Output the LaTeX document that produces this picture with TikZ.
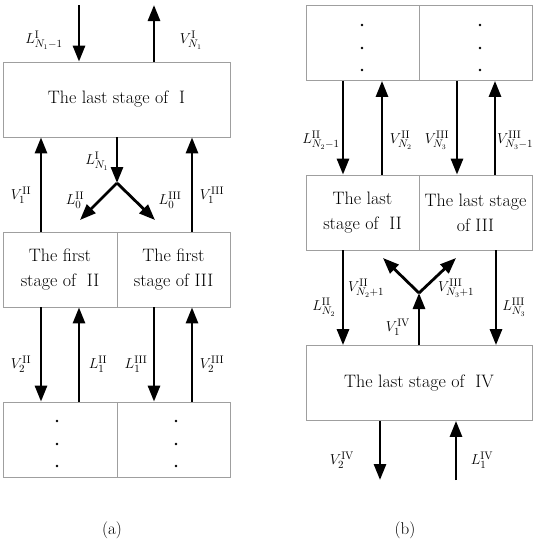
\documentclass[tikz,border=0pt]{standalone}
\usepackage{amsmath}
\usetikzlibrary{arrows.meta,positioning}
\newcommand\boxfont{\fontsize{18}{25}\selectfont}
\newcommand\labfont{\fontsize{15}{18}\selectfont}
\begin{document}
\begin{tikzpicture}[x=1pt, y=-1pt,
  stage/.style={draw=gray!75, line width=0.8pt, inner sep=0pt,
                minimum height=75pt, align=center, font=\boxfont},
  flow/.style={line width=2.8pt, -{Triangle[length=16pt,width=12pt]}},
  lab/.style={font=\labfont, inner sep=0pt}
]
\useasboundingbox (0,0) rectangle (540,550);

% (a) stages
\node[stage, minimum width=227pt] (lastI) at (116.5,99.5) {The last stage of~~I};
\node[stage, minimum width=114pt] (firstII) at (60,269.5) {The first\\stage of~~II};
\node[stage, minimum width=113pt] (firstIII) at (173.5,269.5) {The first\\stage of III};
\node[stage, minimum width=114pt] (dotsII) at (60,439.5) {};
\node[stage, minimum width=113pt] (dotsIII) at (173.5,439.5) {};
\foreach \y in {421,444,466} {
  \fill (57,\y) circle (1.3pt);
  \fill (176,\y) circle (1.3pt);
}

\coordinate (feedI) at (79,5);
\coordinate (vapI) at (154,5);
\coordinate (splitI) at (117,183);
\coordinate (toII) at (80,220);
\coordinate (toIII) at (155,220);

\draw[flow] (feedI) -- (feedI |- lastI.north);
\draw[flow] (vapI |- lastI.north) -- (vapI);
\draw[flow] (splitI |- lastI.south) -- (splitI);
\draw[flow] (splitI) -- (toII);
\draw[flow] (splitI) -- (toIII);
\draw[flow] (41,0 |- firstII.north) -- (41,0 |- lastI.south);
\draw[flow] (192,0 |- firstIII.north) -- (192,0 |- lastI.south);
\draw[flow] (41,0 |- firstII.south) -- (41,0 |- dotsII.north);
\draw[flow] (79,0 |- dotsII.north) -- (79,0 |- firstII.south);
\draw[flow] (154,0 |- firstIII.south) -- (154,0 |- dotsIII.north);
\draw[flow] (192,0 |- dotsIII.north) -- (192,0 |- firstIII.south);

\node[lab] (LfeedI) at (44,40) {$L^{\mathrm{I}}_{N_1-1}$};
\node[lab] (VvapI) at (191,40) {$V^{\mathrm{I}}_{N_1}$};
\node[lab] (LsplitI) at (97,161) {$L^{\mathrm{I}}_{N_1}$};
\node[lab] (VoneII) at (21,195) {$V^{\mathrm{II}}_1$};
\node[lab] (LzeroII) at (75,200) {$L^{\mathrm{II}}_0$};
\node[lab] (LzeroIII) at (170,200) {$L^{\mathrm{III}}_0$};
\node[lab] (VoneIII) at (212,195) {$V^{\mathrm{III}}_1$};
\node[lab] (VtwoII) at (21,364) {$V^{\mathrm{II}}_2$};
\node[lab] (LoneII) at (98,364) {$L^{\mathrm{II}}_1$};
\node[lab] (LoneIII) at (136,364) {$L^{\mathrm{III}}_1$};
\node[lab] (VtwoIII) at (212,364) {$V^{\mathrm{III}}_2$};

% (b) stages
\node[stage, minimum width=113pt] (dotsIIb) at (362.5,43) {};
\node[stage, minimum width=113pt] (dotsIIIb) at (475.5,43) {};
\node[stage, minimum width=113pt] (lastII) at (362.5,212.5) {The last\\stage of~~II};
\node[stage, minimum width=113pt] (lastIII) at (475.5,212.5) {The last stage\\of III};
\node[stage, minimum width=226pt] (lastIV) at (419,383) {The last stage of~~IV};
\foreach \y in {25,48,70} {
  \fill (362,\y) circle (1.3pt);
  \fill (480,\y) circle (1.3pt);
}

\coordinate (splitIV) at (419,293);
\coordinate (upII) at (383,258);
\coordinate (upIII) at (456,258);
\coordinate (vapIV) at (380,480);
\coordinate (feedIV) at (456,480);

\draw[flow] (343,0 |- dotsIIb.south) -- (343,0 |- lastII.north);
\draw[flow] (382,0 |- lastII.north) -- (382,0 |- dotsIIb.south);
\draw[flow] (457,0 |- dotsIIIb.south) -- (457,0 |- lastIII.north);
\draw[flow] (495,0 |- lastIII.north) -- (495,0 |- dotsIIIb.south);
\draw[flow] (343,0 |- lastII.south) -- (343,0 |- lastIV.north);
\draw[flow] (496,0 |- lastIII.south) -- (496,0 |- lastIV.north);
\draw[flow] (splitIV |- lastIV.north) -- (splitIV);
\draw[flow] (splitIV) -- (upII);
\draw[flow] (splitIV) -- (upIII);
\draw[flow] (vapIV |- lastIV.south) -- (vapIV);
\draw[flow] (feedIV) -- (feedIV |- lastIV.south);

\node[lab] (LtopII) at (321,140) {$L^{\mathrm{II}}_{N_2-1}$};
\node[lab] (VtopII) at (401,140) {$V^{\mathrm{II}}_{N_2}$};
\node[lab] (VtopIII) at (437,140) {$V^{\mathrm{III}}_{N_3}$};
\node[lab] (VtopIIIb) at (515,140) {$V^{\mathrm{III}}_{N_3-1}$};
\node[lab] (VupII) at (366,288) {$V^{\mathrm{II}}_{N_2+1}$};
\node[lab] (VupIII) at (456,288) {$V^{\mathrm{III}}_{N_3+1}$};
\node[lab] (LdownII) at (324,307) {$L^{\mathrm{II}}_{N_2}$};
\node[lab] (LdownIII) at (514,307) {$L^{\mathrm{III}}_{N_3}$};
\node[lab] (VoneIV) at (398,327) {$V^{\mathrm{IV}}_1$};
\node[lab] (VtwoIV) at (342,460) {$V^{\mathrm{IV}}_2$};
\node[lab] (LoneIV) at (482,460) {$L^{\mathrm{IV}}_1$};

% captions
\node[font=\fontsize{17}{20}\selectfont] (capA) at (112,530) {(a)};
\node[font=\fontsize{17}{20}\selectfont] (capB) at (405,530) {(b)};
\end{tikzpicture}
\end{document}
